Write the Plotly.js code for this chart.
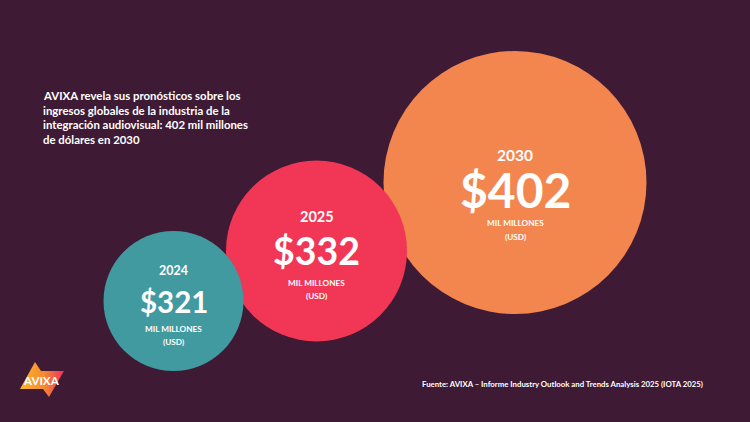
<!DOCTYPE html>
<html><head><meta charset="utf-8">
<script src="https://cdn.plot.ly/plotly-3.0.1.min.js"></script>
<style>html,body{margin:0;padding:0;background:#3e1a35}</style></head>
<body><div id="chart" style="width:750px;height:422px"></div>
<script>
const FONT = 'Lato, "Open Sans", sans-serif';
const years = ['2030','2025','2024'];
const values = ['$402','$332','$321'];
const centerX = [515,316.5,173.5];
const centerY = [182.5,251,301];
const diameters = [263,181,140];
const colors = ['#f3854f','#f13656','#419aa0'];
const yearY = [155,216,270];
const valueY = [189,250,301];
const unitY1 = [223,283,329];
const unitY2 = [237,296,342];
const valueSize = [48,37.5,29.5];
const yearSize = [15.5,14.5,12.5];
const unit1 = 'MIL MILLONES', unit2 = '(USD)';
const headline = ['AVIXA revela sus pronósticos sobre los','ingresos globales de la industria de la','integración audiovisual: 402 mil millones','de dólares en 2030'];
const headlineY = [95,110,124,139];
const source = 'Fuente: AVIXA – Informe Industry Outlook and Trends Analysis 2025 (IOTA 2025)';
const logoX = [35,41,64,49,43,20,35];
const logoY = [362,371,371,397,389,389,362];

const traces = [
 {type:'scatter',mode:'lines',x:logoX,y:logoY,fill:'toself',hoverinfo:'skip',line:{width:0},
  fillgradient:{type:'horizontal',colorscale:[[0,'#fbb62a'],[0.55,'#f58a33'],[1,'#ee2f5c']]}},
 {type:'scatter',mode:'markers',x:centerX,y:centerY,hoverinfo:'skip',
  marker:{size:diameters,sizemode:'diameter',color:colors,opacity:1,line:{width:0}}},
];
const ann = [];
function t(x,y,text,size,anchor){
  ann.push({x,y,text:'<b>'+text+'</b>',xref:'x',yref:'y',showarrow:false,xanchor:anchor||'center',yanchor:'middle',
    font:{family:FONT,size,color:'#ffffff'}});
}
years.forEach((y,i)=>{
  t(centerX[i],yearY[i],y,yearSize[i]);
  t(centerX[i],valueY[i],values[i],valueSize[i]);
  t(centerX[i],unitY1[i],unit1,8.2);
  t(centerX[i],unitY2[i],unit2,8.2);
});
headline.forEach((l,i)=>t(41,headlineY[i],l,11.4,'left'));
t(420,384,source,7.8,'left');
t(41.5,380,'AVIXA',11.6);
Plotly.newPlot('chart',traces,{
  width:750,height:422,margin:{l:0,r:0,t:0,b:0},paper_bgcolor:'#3e1a35',plot_bgcolor:'#3e1a35',showlegend:false,
  xaxis:{range:[0,750],visible:false,fixedrange:true},
  yaxis:{range:[422,0],visible:false,fixedrange:true},
  annotations:ann
},{displayModeBar:false,staticPlot:true});
</script></body></html>
